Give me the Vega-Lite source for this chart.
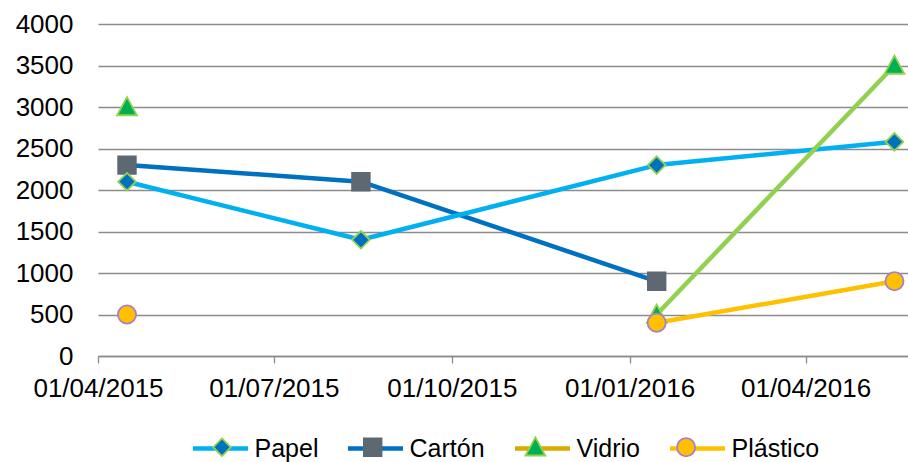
{
  "$schema": "https://vega.github.io/schema/vega-lite/v6.json",
  "width": 810,
  "height": 332,
  "autosize": "none",
  "padding": {"left": 98, "top": 24, "right": 0, "bottom": 106},
  "background": "white",
  "config": {
    "view": {"stroke": null},
    "font": "Liberation Sans",
    "axis": {"labelFont": "Liberation Sans", "labelFontSize": 26, "labelColor": "#000000"},
    "legend": {"labelFont": "Liberation Sans", "labelFontSize": 25, "labelColor": "#000000"}
  },
  "data": {
    "values": [
      {"fecha": "2015-04-16", "serie": "Cartón", "valor": 2300},
      {"fecha": "2015-08-15", "serie": "Cartón", "valor": 2100},
      {"fecha": "2016-01-15", "serie": "Cartón", "valor": 900},
      {"fecha": "2015-04-16", "serie": "Papel", "valor": 2100},
      {"fecha": "2015-08-15", "serie": "Papel", "valor": 1400},
      {"fecha": "2016-01-15", "serie": "Papel", "valor": 2300},
      {"fecha": "2016-05-17", "serie": "Papel", "valor": 2580},
      {"fecha": "2015-04-16", "serie": "Vidrio", "valor": 3000},
      {"fecha": "2015-08-15", "serie": "Vidrio", "valor": null},
      {"fecha": "2016-01-15", "serie": "Vidrio", "valor": 500},
      {"fecha": "2016-05-17", "serie": "Vidrio", "valor": 3500},
      {"fecha": "2015-04-16", "serie": "Plástico", "valor": 500},
      {"fecha": "2015-08-15", "serie": "Plástico", "valor": null},
      {"fecha": "2016-01-15", "serie": "Plástico", "valor": 400},
      {"fecha": "2016-05-17", "serie": "Plástico", "valor": 900}
    ]
  },
  "encoding": {
    "x": {
      "field": "fecha",
      "type": "temporal",
      "scale": {"type": "utc", "domain": [{"year": 2015, "month": 4, "date": 1, "utc": true}, {"year": 2016, "month": 5, "date": 24, "utc": true}]},
      "axis": {
        "title": null,
        "grid": false,
        "values": [
          {"year": 2015, "month": 4, "date": 1, "utc": true},
          {"year": 2015, "month": 7, "date": 1, "utc": true},
          {"year": 2015, "month": 10, "date": 1, "utc": true},
          {"year": 2016, "month": 1, "date": 1, "utc": true},
          {"year": 2016, "month": 4, "date": 1, "utc": true}
        ],
        "format": "%d/%m/%Y",
        "labelFlush": false,
        "labelOverlap": false,
        "domainColor": "#8C8C8C",
        "domainWidth": 1.3,
        "tickColor": "#8C8C8C",
        "tickWidth": 1.3,
        "tickSize": 7,
        "labelPadding": 12,
        "encode": {"ticks": {"update": {"y": {"value": -7}}}}
      }
    },
    "y": {
      "field": "valor",
      "type": "quantitative",
      "scale": {"domain": [0, 4000], "nice": false},
      "axis": {
        "title": null,
        "values": [0, 500, 1000, 1500, 2000, 2500, 3000, 3500, 4000],
        "format": "d",
        "domain": false,
        "ticks": false,
        "tickSize": 0,
        "labelPadding": 25,
        "gridColor": "#8C8C8C",
        "gridWidth": 1.3
      }
    }
  },
  "layer": [
    {
      "mark": {"type": "line", "strokeWidth": 4.5, "strokeCap": "round", "strokeJoin": "round"},
      "encoding": {
        "color": {
          "condition": {"test": "datum.serie === 'Vidrio'", "value": "#92D050"},
          "field": "serie",
          "type": "nominal",
          "sort": ["Papel", "Cartón", "Vidrio", "Plástico"],
          "scale": {"range": ["#00B0F0", "#0070C0", "#DBAA00", "#FFC000"]},
          "legend": {
            "title": null,
            "orient": "none",
            "legendX": 92.5,
            "legendY": 394.5,
            "direction": "horizontal",
            "columns": 4,
            "columnPadding": 20,
            "padding": 0,
            "symbolType": "stroke",
            "symbolSize": 3025,
            "symbolStrokeWidth": 4.5,
            "labelOffset": 4,
            "labelLimit": 200
          }
        }
      }
    },
    {
      "mark": {"type": "point", "filled": true, "opacity": 1, "size": 3025, "strokeWidth": 1.8},
      "encoding": {
        "fill": {
          "field": "serie",
          "type": "nominal",
          "scale": {"domain": ["Papel", "Cartón", "Vidrio", "Plástico"], "range": ["#0070C0", "#5D6872", "#00B050", "#FFC000"]},
          "legend": {
            "title": null,
            "orient": "none",
            "legendX": 95.5,
            "legendY": 394.5,
            "direction": "horizontal",
            "columns": 4,
            "columnPadding": 22.7,
            "padding": 0,
            "symbolSize": 3025,
            "symbolStrokeWidth": 1.8,
            "labelOffset": 4,
            "labelLimit": 200,
            "labelOpacity": 0
          }
        },
        "stroke": {
          "field": "serie",
          "type": "nominal",
          "scale": {"domain": ["Papel", "Cartón", "Vidrio", "Plástico"], "range": ["#92D050", "#5D6872", "#92D050", "#A87FC8"]},
          "legend": {
            "title": null,
            "orient": "none",
            "legendX": 95.5,
            "legendY": 394.5,
            "direction": "horizontal",
            "columns": 4,
            "columnPadding": 22.7,
            "padding": 0,
            "symbolSize": 3025,
            "symbolStrokeWidth": 1.8,
            "labelOffset": 4,
            "labelLimit": 200,
            "labelOpacity": 0
          }
        },
        "shape": {
          "field": "serie",
          "type": "nominal",
          "scale": {"domain": ["Papel", "Cartón", "Vidrio", "Plástico"], "range": [
            "M-1,0L-1,0M1,0L1,0M0,-0.32L0.32,0L0,0.32L-0.32,0Z",
            "M-1,0L-1,0M1,0L1,0M-0.32,-0.32H0.32V0.32H-0.32Z",
            "M-1,0L-1,0M1,0L1,0M0,-0.36L0.36,0.3H-0.36Z",
            "M-1,0L-1,0M1,0L1,0M-0.33,0A0.33,0.33 0 1,0 0.33,0A0.33,0.33 0 1,0 -0.33,0Z"
          ]},
          "legend": {
            "title": null,
            "orient": "none",
            "legendX": 95.5,
            "legendY": 394.5,
            "direction": "horizontal",
            "columns": 4,
            "columnPadding": 22.7,
            "padding": 0,
            "symbolSize": 3025,
            "symbolStrokeWidth": 1.8,
            "labelOffset": 4,
            "labelLimit": 200,
            "labelOpacity": 0
          }
        }
      }
    }
  ]
}
